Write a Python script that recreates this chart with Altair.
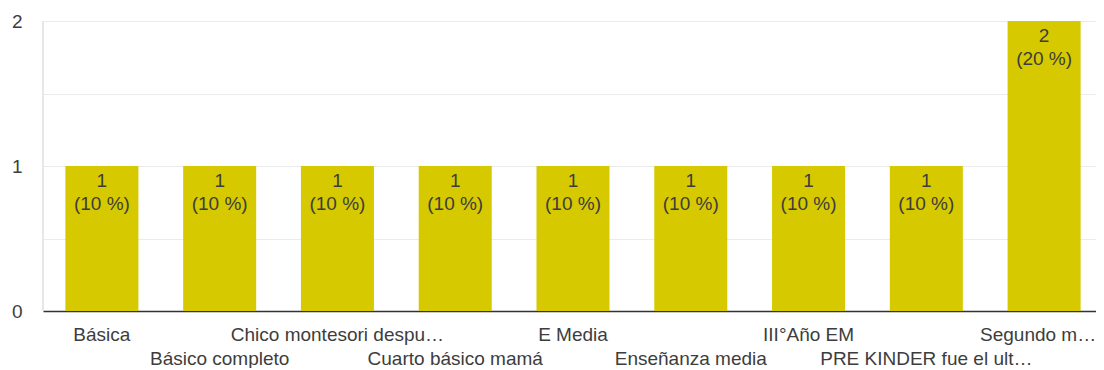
import altair as alt
import pandas as pd
import json

categories = [
    "Básica",
    "Básico completo",
    "Chico montesori despu…",
    "Cuarto básico mamá",
    "E Media",
    "Enseñanza media",
    "III°Año EM",
    "PRE KINDER fue el ult…",
    "Segundo m…",
]
counts = [1, 1, 1, 1, 1, 1, 1, 1, 2]
percents = ["10 %", "10 %", "10 %", "10 %", "10 %", "10 %", "10 %", "10 %", "20 %"]

df = pd.DataFrame({
    "cat": categories,
    "count": counts,
    "label": [f"{c}\n({p})" for c, p in zip(counts, percents)],
})

odd_row = json.dumps(categories[1::2], ensure_ascii=False)
last_cat = json.dumps(categories[-1], ensure_ascii=False)
FONT = "Liberation Sans"
FS = 19
TXT = "#3d3d3d"

x = alt.X(
    "cat:N",
    sort=categories,
    title=None,
    scale=alt.Scale(paddingInner=0.38, paddingOuter=0.19, range=[0, 1060]),
    axis=alt.Axis(
        labelAngle=0,
        labelOverlap=False,
        labelLimit=400,
        labelFont=FONT,
        labelFontSize=FS,
        labelColor=TXT,
        labelBaseline="top",
        labelPadding={"condition": {"test": f"indexof({odd_row}, datum.value) >= 0", "value": 38}, "value": 14},
        labelOffset={"condition": {"test": f"datum.value == {last_cat}", "value": -6}, "value": 0},
        ticks=False,
        domainColor="#333333",
        domainWidth=1.5,
        grid=False,
    ),
)

y = alt.Y(
    "count:Q",
    title=None,
    scale=alt.Scale(domain=[0, 2], nice=False),
    axis=alt.Axis(
        values=[0, 0.5, 1, 1.5, 2],
        labelExpr="datum.value % 1 == 0 ? format(datum.value, 'd') : ''",
        labelFont=FONT,
        labelFontSize=FS,
        labelColor=TXT,
        labelPadding=21,
        ticks=False,
        domain=False,
        gridColor="#ebebeb",
        gridWidth=1,
    ),
)

bars = alt.Chart(df).mark_bar(color="#d6c900").encode(x=x, y=y)

texts = alt.Chart(df).mark_text(
    baseline="top",
    dy=6,
    font=FONT,
    fontSize=FS,
    color=TXT,
    lineBreak="\n",
    lineHeight=23,
).encode(x=alt.X("cat:N", sort=categories, scale=alt.Scale(paddingInner=0.38, paddingOuter=0.19, range=[0, 1060])), y="count:Q", text="label:N")

left_border = alt.Chart(df).mark_rule(color="#e6e6e6").encode(
    x=alt.value(0), y=alt.value(0), y2=alt.value(290)
)

chart = (
    alt.layer(left_border, bars, texts)
    .properties(
        width=1053,
        height=290,
        padding={"left": 35, "top": 13, "right": 0, "bottom": 57},
        autosize=alt.AutoSizeParams(type="none"),
        background="white",
    )
    .configure_view(stroke=None)
)

chart.save("out.html", embed_options={"renderer": "svg", "actions": False})
